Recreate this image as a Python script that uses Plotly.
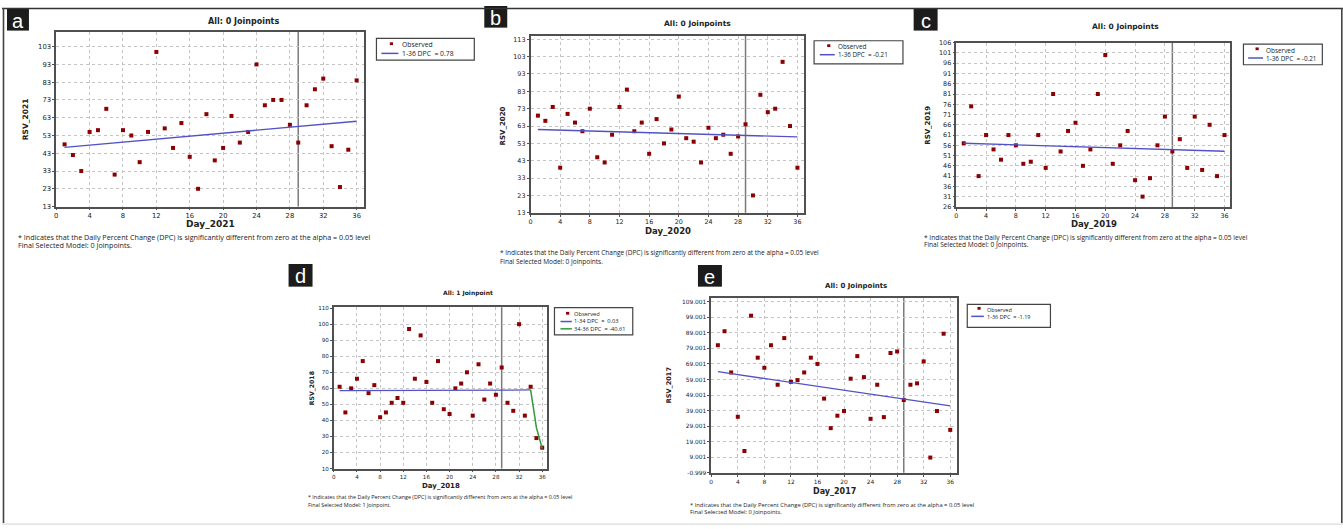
import plotly.graph_objects as go

W, H = 1343, 529

# ---------------- data ----------------
days = list(range(1, 37))

rsv_2021 = [48, 42, 33, 55, 56, 68, 31, 56, 53, 38, 55, 100, 57, 46, 60, 41, 23, 65,
            39, 46, 64, 49, 55, 93, 70, 73, 73, 59, 49, 70, 79, 85, 47, 24, 45, 84]
rsv_2020 = [69, 66, 74, 39, 70, 65, 60, 73, 45, 42, 58, 74, 84, 60, 65, 47, 67, 53,
            61, 80, 56, 54, 42, 62, 56, 58, 47, 57, 64, 23, 81, 71, 73, 100, 63, 39]
rsv_2019 = [57, 75, 41, 61, 54, 49, 61, 56, 47, 48, 61, 45, 81, 53, 63, 67, 46, 54,
            81, 100, 47, 56, 63, 39, 31, 40, 56, 70, 53, 59, 45, 70, 44, 66, 41, 61]
rsv_2018 = [61, 45, 60, 66, 77, 57, 62, 42, 45, 51, 54, 51, 97, 66, 93, 64, 51, 77,
            47, 44, 60, 63, 70, 43, 75, 53, 63, 56, 73, 51, 46, 100, 43, 61, 29, 23]
rsv_2017 = [81, 90, 63.5, 35, 13, 100, 73, 66.5, 81, 55.6, 85.6, 57.5, 58.6, 63.5, 73, 69,
            46.7, 27.7, 35.7, 38.7, 59.5, 74, 60.5, 33.7, 55.6, 34.8, 76, 77, 45.8, 55.6,
            56.5, 70.6, 8.8, 38.7, 88.4, 26.6]

# fitted joinpoint segments
fit_2021_x, fit_2021_y = [1, 36], [46.3, 61.0]
fit_2020_x, fit_2020_y = [1, 36], [61.0, 56.7]
fit_2019_x, fit_2019_y = [1, 36], [57.0, 53.1]
fit_2018a_x, fit_2018a_y = [1, 34], [58.6, 59.0]
fit_2018b_x, fit_2018b_y = [34, 35, 36], [59.0, 35.5, 22.5]
fit_2017_x, fit_2017_y = [1, 36], [64.0, 42.0]

NB = "\u00a0"
legend_2021 = ["Observed", f"1-36 DPC{NB} = 0.78"]
legend_2020 = ["Observed", f"1-36 DPC{NB} = -0.21"]
legend_2019 = ["Observed", f"1-36 DPC{NB} = -0.21"]
legend_2018 = ["Observed", f"1-34 DPC{NB} ={NB} 0.03", f"34-36 DPC{NB} = -40.61"]
legend_2017 = ["Observed", f"1-36 DPC{NB} = -1.19"]

x_ticks = [0, 4, 8, 12, 16, 20, 24, 28, 32, 36]
y_ticks_2021 = [13, 23, 33, 43, 53, 63, 73, 83, 93, 103]
y_ticks_2020 = [13, 23, 33, 43, 53, 63, 73, 83, 93, 103, 113]
y_ticks_2019 = [26, 31, 36, 41, 46, 51, 56, 61, 66, 71, 76, 81, 86, 91, 96, 101, 106]
y_ticks_2018 = [10, 20, 30, 40, 50, 60, 70, 80, 90, 100, 110]
y_ticks_2017 = [-0.999, 9.001, 19.001, 29.001, 39.001, 49.001, 59.001, 69.001, 79.001,
                89.001, 99.001, 109.001]
y_ticktext_2017 = ["-0.999", "9.001", "19.001", "29.001", "39.001", "49.001", "59.001",
                   "69.001", "79.001", "89.001", "99.001", "109.001"]

titles = ["All: 0 Joinpoints", "All: 0 Joinpoints", "All: 0 Joinpoints",
          "All: 1 Joinpoint", "All: 0 Joinpoints"]
footnote_1 = "* Indicates that the Daily Percent Change (DPC) is significantly different from zero at the alpha = 0.05 level"
footnotes_2 = ["Final Selected Model: 0 Joinpoints.", "Final Selected Model: 0 Joinpoints.",
               "Final Selected Model: 0 Joinpoints.", "Final Selected Model: 1 Joinpoint.",
               "Final Selected Model: 0 Joinpoints."]
joinpoint_marker_day = 29

# ---------------- styling / layout ----------------
RED = "#8b0000"
BLUE = "#5252c8"
GREEN = "#2f9a3a"
FRAME = "#505050"
GRID = "#c4c4c4"
TXT = "#222222"

def fx(p):
    return p / W

def fy(p):
    return 1 - p / H

panels = [
    dict(letter="a", year="2021", y=rsv_2021, yt=y_ticks_2021, ytt=None,
         fits=[(fit_2021_x, fit_2021_y, BLUE)], leg=legend_2021,
         frame=(54.3, 362.7, 28.3, 205.7), xr=36.9, yr=(13, 111.3),
         tick=6.8, title=(241.7, 17.3, 8), xt=(209, 223.3, 9), yti=(24.3, 116.7, 7.5),
         box=(375, 473, 35, 57), leg_row0=41.3, leg_fs=6.8, leg_sym=(380, 397),
         leg_txt=400, foot=(15, 237, 244.7, 7.2), lab=(5, 27, 5, 27)),
    dict(letter="b", year="2020", y=rsv_2020, yt=y_ticks_2020, ytt=None,
         fits=[(fit_2020_x, fit_2020_y, BLUE)], leg=legend_2020,
         frame=(529.3, 803.3, 32.3, 212), xr=36.9, yr=(13, 115),
         tick=6.4, title=(696.7, 19.3, 7.5), xt=(666.7, 230, 8.5), yti=(501.7, 123.3, 7),
         box=(813.3, 902.3, 37.3, 60.7), leg_row0=43.3, leg_fs=6.3, leg_sym=(819, 834),
         leg_txt=836, foot=(498, 252.3, 261.7, 6.5), lab=(483, 506, 2, 24)),
    dict(letter="c", year="2019", y=rsv_2019, yt=y_ticks_2019, ytt=None,
         fits=[(fit_2019_x, fit_2019_y, BLUE)], leg=legend_2019,
         frame=(955.7, 1230, 39.3, 206), xr=36.76, yr=(26, 106),
         tick=6.4, title=(1125, 23.3, 7.5), xt=(1094, 223.3, 8.5), yti=(927.7, 123.3, 7),
         box=(1243.3, 1322.3, 40.7, 61.7), leg_row0=46.5, leg_fs=6.4, leg_sym=(1248, 1263),
         leg_txt=1265, foot=(922, 236.7, 244.3, 6.6), lab=(913, 937, 5, 27)),
    dict(letter="d", year="2018", y=rsv_2018, yt=y_ticks_2018, ytt=None,
         fits=[(fit_2018a_x, fit_2018a_y, BLUE), (fit_2018b_x, fit_2018b_y, GREEN)],
         leg=legend_2018,
         frame=(332.3, 546, 308, 471.7), xr=36.86, yr=(10, 110.5),
         tick=5.6, title=(466.7, 293.3, 6), xt=(440, 489, 7), yti=(310.7, 390, 6.2),
         box=(553.3, 631.7, 308.3, 336), leg_row0=315, leg_fs=5.7, leg_sym=(559.3, 570.7),
         leg_txt=572.3, foot=(305, 500.7, 508.3, 5.4), lab=(287, 311, 264, 287)),
    dict(letter="e", year="2017", y=rsv_2017, yt=y_ticks_2017, ytt=y_ticktext_2017,
         fits=[(fit_2017_x, fit_2017_y, BLUE)], leg=legend_2017,
         frame=(710.3, 956.7, 298.3, 476), xr=37.06, yr=(-0.999, 111.5),
         tick=5.9, title=(855, 286.7, 7), xt=(833.3, 495, 8), yti=(668.3, 386.7, 6.5),
         box=(966.7, 1050, 305, 328.3), leg_row0=310, leg_fs=5.5, leg_sym=(970.7, 983.3),
         leg_txt=985, foot=(688, 508.3, 516, 5.8), lab=(697, 721, 265, 287)),
]

fig = go.Figure()
shapes = []
annotations = []
layout_axes = {}

for i, p in enumerate(panels, start=1):
    xa = "x" if i == 1 else f"x{i}"
    ya = "y" if i == 1 else f"y{i}"
    x0, x1, y0, y1 = p["frame"]

    fig.add_trace(go.Scatter(
        x=days, y=p["y"], mode="markers", xaxis=xa, yaxis=ya, showlegend=False,
        name="Observed",
        marker=dict(symbol="square", size=4, color=RED, line=dict(width=0)),
        cliponaxis=False))
    for fxs, fys, col in p["fits"]:
        fig.add_trace(go.Scatter(
            x=fxs, y=fys, mode="lines", xaxis=xa, yaxis=ya, showlegend=False,
            line=dict(color=col, width=1.3 if col == BLUE else 1.5)))

    axis_common = dict(
        showline=True, mirror=True, linecolor=FRAME, linewidth=1.5,
        showgrid=True, gridcolor=GRID, griddash="dot", gridwidth=1,
        zeroline=False, ticks="outside", ticklen=2, tickcolor=FRAME,
        tickfont=dict(family="DejaVu Sans", size=p["tick"], color=TXT),
    )
    layout_axes["xaxis" if i == 1 else f"xaxis{i}"] = dict(
        domain=[fx(x0), fx(x1)], anchor=ya, range=[0, p["xr"]],
        tickvals=x_ticks, **axis_common)
    yax = dict(domain=[fy(y1), fy(y0)], anchor=xa, range=list(p["yr"]),
               tickvals=p["yt"], **axis_common)
    if p["ytt"] is not None:
        yax["ticktext"] = p["ytt"]
    layout_axes["yaxis" if i == 1 else f"yaxis{i}"] = yax

    # joinpoint reference vertical line
    shapes.append(dict(type="line", xref=xa, yref=f"{ya} domain",
                       x0=joinpoint_marker_day, x1=joinpoint_marker_day, y0=0, y1=1,
                       line=dict(color="#7a7a7a", width=1.5), layer="below"))

    # panel title
    tx, ty, ts = p["title"]
    annotations.append(dict(text=f"<b>{titles[i-1]}</b>", x=fx(tx), y=fy(ty), xref="paper",
                            yref="paper", showarrow=False, xanchor="center", yanchor="middle",
                            font=dict(family="DejaVu Sans", size=ts, color=TXT)))
    # axis titles
    ax_, ay_, as_ = p["xt"]
    annotations.append(dict(text=f"<b>Day_{p['year']}</b>", x=fx(ax_), y=fy(ay_), xref="paper",
                            yref="paper", showarrow=False, xanchor="center", yanchor="middle",
                            font=dict(family="DejaVu Sans", size=as_, color=TXT)))
    bx_, by_, bs_ = p["yti"]
    annotations.append(dict(text=f"<b>RSV_{p['year']}</b>", x=fx(bx_), y=fy(by_), xref="paper",
                            yref="paper", showarrow=False, xanchor="center", yanchor="middle",
                            textangle=-90,
                            font=dict(family="DejaVu Sans", size=bs_, color=TXT)))
    # footnotes
    fx0, fy1, fy2, fs = p["foot"]
    for txt, yy in [(footnote_1, fy1), (footnotes_2[i-1], fy2)]:
        annotations.append(dict(text=txt, x=fx(fx0), y=fy(yy), xref="paper", yref="paper",
                                showarrow=False, xanchor="left", yanchor="middle", borderpad=0,
                                font=dict(family="Open Sans", size=fs, color=TXT)))

    # legend box (drawn compactly, like the source)
    lx0, lx1, ly0, ly1 = p["box"]
    shapes.append(dict(type="rect", xref="paper", yref="paper",
                       x0=fx(lx0), x1=fx(lx1), y0=fy(ly1), y1=fy(ly0),
                       line=dict(color="#444", width=1.2), fillcolor="white"))
    s0, s1 = p["leg_sym"]
    lfs = p["leg_fs"]
    sp = 1.3 * lfs
    n = len(p["leg"])
    rows = [p["leg_row0"] + k * sp for k in range(n)]
    line_cols = [c for _, _, c in p["fits"]]
    for k, ry in enumerate(rows):
        if k == 0:
            cx = (s0 + s1) / 2 + 1.5
            cy = ry - 1.0
            shapes.append(dict(type="rect", xref="paper", yref="paper",
                               x0=fx(cx - 1.6), x1=fx(cx + 1.6), y0=fy(cy + 1.4), y1=fy(cy - 1.4),
                               line=dict(width=0), fillcolor=RED))
        else:
            shapes.append(dict(type="line", xref="paper", yref="paper",
                               x0=fx(s0), x1=fx(s1), y0=fy(ry), y1=fy(ry),
                               line=dict(color=line_cols[k-1], width=1.5)))
    annotations.append(dict(text="<br>".join(p["leg"]), x=fx(p["leg_txt"]),
                            y=fy((rows[0] + rows[-1]) / 2 + 0.3), xref="paper", yref="paper",
                            showarrow=False, xanchor="left", yanchor="middle", align="left",
                            borderpad=0,
                            font=dict(family="Open Sans", size=lfs, color=TXT)))

    # panel letter badge
    bx0, bx1, by0, by1 = p["lab"]
    shapes.append(dict(type="rect", xref="paper", yref="paper",
                       x0=fx(bx0), x1=fx(bx1), y0=fy(by1), y1=fy(by0),
                       line=dict(width=0), fillcolor="#1c1c1c"))
    annotations.append(dict(text=p["letter"], x=fx((bx0 + bx1) / 2), y=fy((by0 + by1) / 2 + 1),
                            xref="paper", yref="paper", showarrow=False,
                            xanchor="center", yanchor="middle",
                            font=dict(family="Liberation Sans", size=20, color="white")))

# outer frame
shapes.append(dict(type="line", xref="paper", yref="paper", x0=0, x1=1, y0=fy(4.6), y1=fy(4.6),
                   line=dict(color="#333", width=1.6)))
shapes.append(dict(type="line", xref="paper", yref="paper", x0=fx(1.5), x1=fx(1.5),
                   y0=fy(527), y1=fy(4), line=dict(color="#444", width=1.6)))
shapes.append(dict(type="line", xref="paper", yref="paper", x0=fx(1341.8), x1=fx(1341.8),
                   y0=fy(527), y1=fy(4), line=dict(color="#444", width=1.6)))
shapes.append(dict(type="rect", xref="paper", yref="paper", x0=0, x1=1, y0=0, y1=fy(527.2),
                   line=dict(width=0), fillcolor="#e6e6e6"))

fig.update_layout(
    width=W, height=H, margin=dict(l=0, r=0, t=0, b=0),
    paper_bgcolor="white", plot_bgcolor="white",
    shapes=shapes, annotations=annotations, showlegend=False,
    **layout_axes,
)

fig.write_html("out.html")
